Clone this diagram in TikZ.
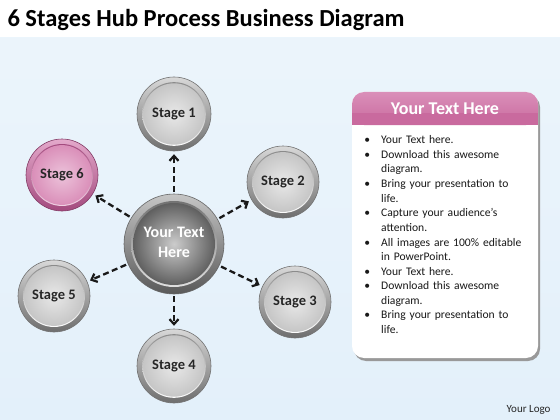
\documentclass[tikz,border=0pt]{standalone}
\usepackage{fontspec}
\setmainfont{Carlito}
\usetikzlibrary{arrows.meta}
\definecolor{bgblue}{HTML}{E3F0FA}
\definecolor{pinkhead}{HTML}{C96A9E}
\definecolor{pinktop}{HTML}{DA8FB9}
\definecolor{pinklight}{HTML}{E4A9CB}
\definecolor{pinkdark}{HTML}{A34A7E}
\definecolor{ringdark}{HTML}{6E6E6E}
\definecolor{ringlight}{HTML}{D8D8D8}
\tikzset{
  x=1pt,y=-1pt,
  conn/.style={line width=2.3pt,dash pattern=on 6pt off 3.5pt,-{Straight Barb[length=5pt,width=9pt,line width=2.2pt]},black!90},
  lbl/.style={font=\fontsize{14.5}{16}\selectfont\bfseries,text=black!85},
}
\newcommand{\graydisc}[3]{%
  \shade[top color=ringlight,bottom color=ringdark] (#1,#2) circle (#3);
  \draw[black!55,line width=0.6pt] (#1,#2) circle (#3);
  \shade[top color=ringdark!80,bottom color=white] (#1,#2) circle (#3*0.86);
  \shade[inner color=gray!18,outer color=gray!45] (#1,#2) circle (#3*0.83);
}
\newcommand{\hubdisc}[3]{%
  \shade[top color=gray!45,bottom color=black!65] (#1,#2) circle (#3);
  \draw[black!60,line width=0.6pt] (#1,#2) circle (#3);
  \shade[top color=black!55,bottom color=gray!25] (#1,#2) circle (#3*0.86);
  \shade[inner color=gray!40,outer color=gray!75!black] (#1,#2) circle (#3*0.82);
}
\newcommand{\pinkdisc}[3]{%
  \shade[top color=pinklight,bottom color=pinkdark] (#1,#2) circle (#3);
  \draw[pinkdark!80!black,line width=0.6pt] (#1,#2) circle (#3);
  \shade[top color=pinkdark,bottom color=pinklight!50!white] (#1,#2) circle (#3*0.86);
  \shade[inner color=pinklight!70!white,outer color=pinktop] (#1,#2) circle (#3*0.83);
}
\begin{document}
\begin{tikzpicture}
\useasboundingbox (0,0) rectangle (560,420);
\fill[white] (0,0) rectangle (560,420);
\shade[top color=bgblue!70!white,bottom color=bgblue] (0,38) rectangle (560,420);
\node[anchor=west,font=\fontsize{24.5}{27}\selectfont\bfseries] (title) at (4,20) {6 Stages Hub Process Business Diagram};
% discs
\hubdisc{174}{244}{50}
\graydisc{174}{114}{37}
\graydisc{283}{182}{36}
\graydisc{295}{302}{36}
\graydisc{174}{366}{37}
\graydisc{54}{296}{36}
\pinkdisc{62}{175}{36}
\node[circle,minimum size=100pt] (hub) at (174,244) {};
\node[align=center,text=white,font=\fontsize{16}{20}\selectfont\bfseries] (hubt) at (174,242) {Your Text\\Here};
\node[lbl,circle,minimum size=74pt] (s1) at (174,114) {Stage 1};
\node[lbl,circle,minimum size=72pt] (s2) at (283,182) {Stage 2};
\node[lbl,circle,minimum size=72pt] (s3) at (295,302) {Stage 3};
\node[lbl,circle,minimum size=74pt] (s4) at (174,366) {Stage 4};
\node[lbl,circle,minimum size=72pt] (s5) at (54,296) {Stage 5};
\node[lbl,circle,minimum size=72pt] (s6) at (62,175) {Stage 6};
% connectors
\draw[conn,shorten >=3pt,shorten <=2pt] (hub) -- (s1);
\draw[conn,shorten >=3pt,shorten <=2pt] (hub) -- (s2);
\draw[conn,shorten >=3pt,shorten <=2pt] (hub) -- (s3);
\draw[conn,shorten >=3pt,shorten <=2pt] (hub) -- (s4);
\draw[conn,shorten >=3pt,shorten <=2pt] (hub) -- (s5);
\draw[conn,shorten >=3pt,shorten <=2pt] (hub) -- (s6);
% text box
\fill[black!40,rounded corners=12pt] (354,95) rectangle (540,361);
\fill[white,rounded corners=12pt] (352,92) rectangle (538,358);
\shade[top color=pinktop,bottom color=pinkhead,rounded corners=12pt] (352,92) rectangle (538,125);
\fill[pinkhead] (352,113) rectangle (538,125);
\node[text=white,font=\fontsize{18}{20}\selectfont\bfseries] (boxhead) at (445,109) {Your Text Here};
\node[anchor=north west,text width=164pt,font=\fontsize{11.6}{14.6}\selectfont,inner sep=0pt,text=black!90] (boxtext) at (362,129) {%
\begin{list}{\textbullet}{\leftmargin=19pt\labelwidth=8pt\labelsep=11pt\itemsep=0pt\parsep=0pt\topsep=0pt}
\item Your Text here.
\item Download this awesome diagram.
\item Bring your presentation to life.
\item Capture your audience’s attention.
\item All images are 100\% editable in PowerPoint.
\item Your Text here.
\item Download this awesome diagram.
\item Bring your presentation to life.
\end{list}};
\node[anchor=east,font=\fontsize{11}{13}\selectfont,text=black!85] (logo) at (554,410) {Your Logo};
\end{tikzpicture}
\end{document}
